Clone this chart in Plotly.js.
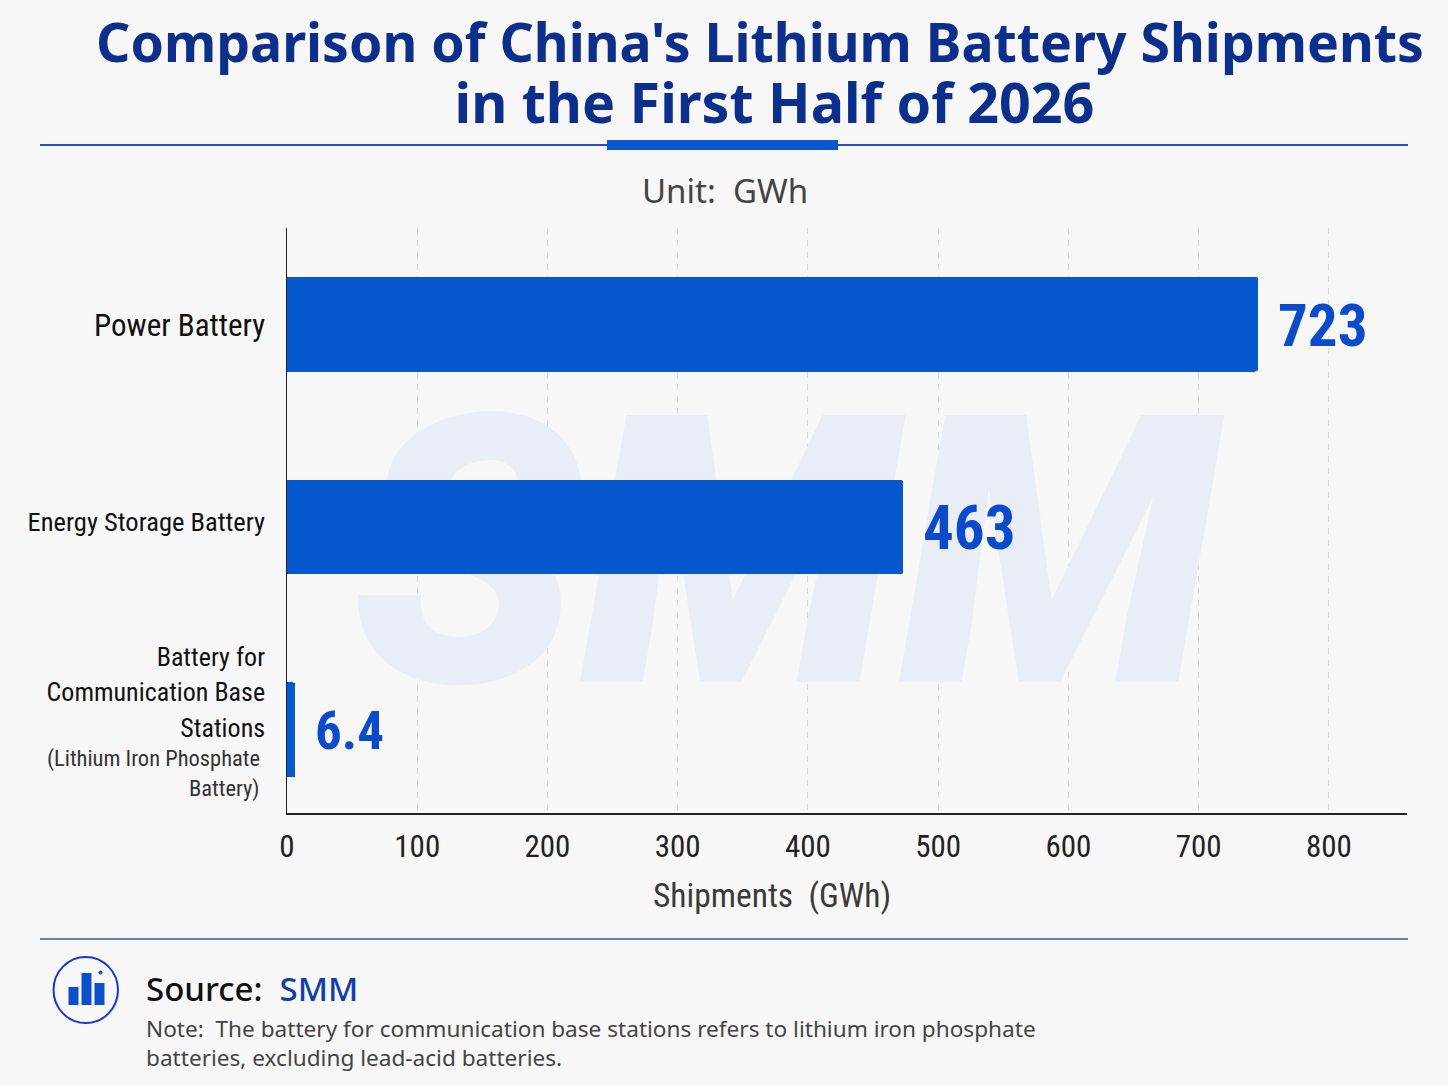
<!DOCTYPE html>
<html><head><meta charset="utf-8">
<script src="https://cdn.plot.ly/plotly-3.0.1.min.js"></script>
<style>html,body{margin:0;padding:0;background:#f7f7f8}</style></head>
<body><div id="chart" style="width:1448px;height:1086px"></div>
<script>
// Values printed on the chart
const categories = ["Power Battery", "Energy Storage Battery", "Battery for<br>Communication Base<br>Stations"];
const valueLabels = ["723", "463", "6.4"];
// Bar lengths as read against the drawn axis (the picture draws them longer than the printed numbers)
const barLengths = [745.5, 473, 6.4];
const xTicks = [0, 100, 200, 300, 400, 500, 600, 700, 800];
const subLabelLines = ["(Lithium Iron Phosphate", "Battery)"];
// Layout details, kept apart from the data
const categoryTickPositions = [0.012, 0.975, 1.813];
const categoryFontSizes = [31, 26.5, 26];
const valueFontSizes = [59, 61, 53];

const W = 1448, H = 1086;
const px = x => x / W, py = y => 1 - y / H;
const NARROW = '"Roboto Condensed", sans-serif';
const SANS = '"Noto Sans", sans-serif';
const xRange = [0, 860], yRange = [2.409, -0.473];
const xDom = [px(287), px(1407)], yDom = [py(813), py(228)];

const watermark = {type:'scatter', mode:'text', x:[382], y:[1.3], text:['SMM'], xaxis:'x', yaxis:'y',
  textposition:'middle center', cliponaxis:false, hoverinfo:'skip', showlegend:false,
  textfont:{family:'Roboto, sans-serif', size:375, color:'#e9eef6', weight:900, style:'italic'}};
const bars = {type:'bar', orientation:'h', x:barLengths, y:categories.map((c,i)=>i), xaxis:'x2', yaxis:'y2',
  width:0.468, marker:{color:'#0757cf', cornerradius:3, line:{width:0}}, showlegend:false, hoverinfo:'skip'};

const annotations = [];
const note = (x,y,text,size,color,family,anchor,weight) => annotations.push(
  {xref:'paper',yref:'paper',x:px(x),y:py(y),text,showarrow:false,xanchor:anchor||'left',yanchor:'middle',
   font:{size,color,family,weight:weight||400}});
valueLabels.forEach((t,i)=>annotations.push({xref:'x2',yref:'y2',x:barLengths[i],y:i,text:'<b>'+t+'</b>',showarrow:false,
  xanchor:'left',yanchor:'middle',xshift:18,yshift:-1,font:{size:valueFontSizes[i],color:'#0b4acb',family:NARROW}}));
note(725,190,'Unit:&nbsp; GWh',33,'#444444',SANS,'center');
note(772,895,'Shipments&nbsp; (GWh)',33.5,'#3a3a3a',NARROW,'center');
subLabelLines.forEach((t,i)=>note(261.5,758+i*30,t,22.5,'#333333',NARROW,'right'));
note(144,988,'Source:&nbsp; <span style="color:#0f3fa8">SMM</span>',33,'#111111',SANS,'left',500);
note(144,1028.5,'Note:&nbsp; The battery for communication base stations refers to lithium iron phosphate',22.6,'#444444',SANS);
note(144,1057.5,'batteries, excluding lead-acid batteries.',22.6,'#444444',SANS);

const rect = (x0,y0,x1,y1,fill) => ({type:'rect',xref:'paper',yref:'paper',x0:px(x0),x1:px(x1),y0:py(y0),y1:py(y1),fillcolor:fill,line:{width:0}});
const hline = (x0,x1,y,color,w) => ({type:'line',xref:'paper',yref:'paper',x0:px(x0),x1:px(x1),y0:py(y),y1:py(y),line:{color,width:w}});
const shapes = [
  hline(40,1408,145,'#1c4fd2',2),
  rect(607,140,838,150,'#0757cf'),
  hline(40,1408,939,'#3d5aa8',1.5),
  {type:'circle',xref:'paper',yref:'paper',x0:px(53.5),x1:px(118),y0:py(1023),y1:py(957),fillcolor:'rgba(0,0,0,0)',line:{color:'#1339d0',width:2}},
  rect(68.5,987,78.5,1005,'#0b4fcc'),
  rect(81.5,973,91.5,1005,'#0b4fcc'),
  rect(94.5,983,104.5,1005,'#0b4fcc'),
  {type:'circle',xref:'paper',yref:'paper',x0:px(98.5),x1:px(102.5),y0:py(974.5),y1:py(970.5),fillcolor:'#0b4fcc',line:{width:0}}
];

const sized = (t,s) => '<span style="font-size:'+s+'px">'+t+'</span>';
const layout = {
  width:W, height:H, autosize:false, margin:{l:0,r:0,t:0,b:0},
  paper_bgcolor:'#f7f7f8', plot_bgcolor:'rgba(0,0,0,0)', showlegend:false, bargap:0,
  title:{text:sized("<b>Comparison of China's Lithium Battery Shipments</b>",53.6)+'<br>'+sized("<b>&nbsp;&nbsp;in the First Half of 2026</b>",55.6),
    x:px(760), xanchor:'center', y:py(62), yanchor:'middle', font:{size:47, color:'#0b2f8a', family:SANS}},
  xaxis:{domain:xDom, range:xRange, fixedrange:true, tickvals:xTicks, ticks:'outside', ticklen:5, tickcolor:'rgba(0,0,0,0)',
    tickfont:{size:31,color:'#222222',family:NARROW}, showgrid:true, gridcolor:'#d6d8db', griddash:'6px,6px', gridwidth:1,
    showline:true, linecolor:'#222222', linewidth:1.5, zeroline:false},
  yaxis:{domain:yDom, range:yRange, fixedrange:true, tickmode:'array', tickvals:categoryTickPositions,
    ticktext:categories.map((c,i)=>sized(c,categoryFontSizes[i]).replace(/<br>/g,'</span><br><span style="font-size:'+categoryFontSizes[i]+'px">')),
    ticks:'outside', ticklen:15, tickcolor:'rgba(0,0,0,0)', tickfont:{size:27,color:'#111111',family:NARROW},
    showgrid:false, showline:true, linecolor:'#222222', linewidth:1.5, zeroline:false},
  xaxis2:{domain:xDom, range:xRange, overlaying:'x', anchor:'y2', visible:false, fixedrange:true},
  yaxis2:{domain:yDom, range:yRange, overlaying:'y', anchor:'x2', visible:false, fixedrange:true},
  annotations, shapes
};
Plotly.newPlot('chart',[watermark,bars],layout,{displayModeBar:false,staticPlot:true});
</script></body></html>
